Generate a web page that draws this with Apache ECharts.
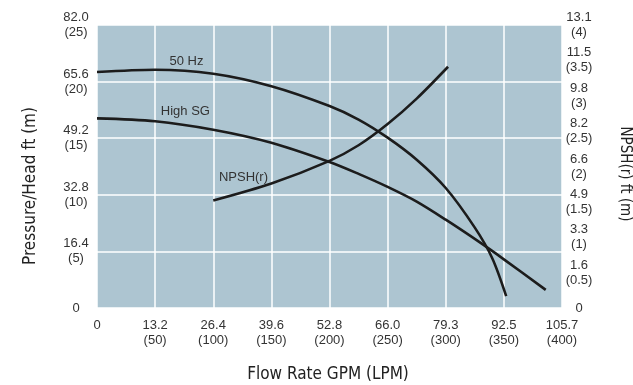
<!DOCTYPE html>
<html>
<head>
<meta charset="utf-8">
<script src="https://cdn.jsdelivr.net/npm/echarts@6/dist/echarts.min.js"></script>
<style>
  html, body { margin: 0; padding: 0; background: #fff; }
  #chart { width: 633px; height: 385px; }
</style>
</head>
<body>
<div id="chart"></div>
<script>
// flow in LPM, head in m (left axis), NPSH in m (right axis)
const flow50Hz = [0, 50, 100, 150, 200, 225, 250, 275, 300, 325, 340, 352]
const head50Hz = [20.85, 21.05, 20.7, 19.6, 17.85, 16.65, 15.05, 13.1, 10.6, 7.1, 4.4, 1.05]

const flowHighSG = [0, 50, 100, 150, 200, 225, 250, 275, 300, 330, 350, 386]
const headHighSG = [16.75, 16.5, 15.75, 14.6, 12.9, 11.85, 10.7, 9.4, 7.8, 5.75, 4.3, 1.6]

const flowNpsh = [100, 150, 200, 225, 250, 275, 302]
const npshValues = [1.52, 1.76, 2.08, 2.3, 2.6, 2.96, 3.41]

const xTickLabels = ['0', '13.2\n(50)', '26.4\n(100)', '39.6\n(150)', '52.8\n(200)', '66.0\n(250)', '79.3\n(300)', '92.5\n(350)', '105.7\n(400)']
const leftTickLabels = ['0', '16.4\n(5)', '32.8\n(10)', '49.2\n(15)', '65.6\n(20)', '82.0\n(25)']
const rightTickLabels = ['0', '1.6\n(0.5)', '3.3\n(1)', '4.9\n(1.5)', '6.6\n(2)', '8.2\n(2.5)', '9.8\n(3)', '11.5\n(3.5)', '13.1\n(4)']

const pair = (xs, ys) => xs.map((x, i) => [x, ys[i]])

const tickFont = {
  color: '#333',
  fontFamily: 'Liberation Sans, Arial, sans-serif',
  fontSize: 13,
  lineHeight: 15
}
const nameFamily = '"Liberation Sans Narrow", "DejaVu Sans Condensed", sans-serif'
const lineStyle = { width: 2.6, color: '#1c1c1c' }

function curveLabel(text, coord) {
  return {
    symbol: 'circle',
    symbolSize: 1,
    itemStyle: { color: 'transparent' },
    label: {
      show: true,
      position: 'inside',
      formatter: text,
      color: '#333',
      fontFamily: 'Liberation Sans, Arial, sans-serif',
      fontSize: 13
    },
    data: [{ coord: coord }]
  }
}

const chart = echarts.init(document.getElementById('chart'))
chart.setOption({
  animation: false,
  grid: {
    left: 97,
    right: 71,
    top: 25,
    bottom: 77,
    show: true,
    backgroundColor: '#adc5d1',
    borderWidth: 0
  },
  xAxis: {
    type: 'value',
    min: 0,
    max: 400,
    interval: 50,
    axisLine: { show: false },
    axisTick: { show: false },
    splitLine: { show: true, lineStyle: { color: '#fff', width: 1.5 } },
    axisLabel: Object.assign({
      margin: 10,
      formatter: (v, i) => xTickLabels[i]
    }, tickFont)
  },
  yAxis: [{
    type: 'value',
    min: 0,
    max: 25,
    interval: 5,
    axisLine: { show: false },
    axisTick: { show: false },
    splitLine: { show: true, lineStyle: { color: '#fff', width: 1.5 } },
    axisLabel: Object.assign({
      margin: 21,
      align: 'center',
      formatter: (v, i) => leftTickLabels[i]
    }, tickFont)
  }, {
    type: 'value',
    min: 0,
    max: 4,
    interval: 0.5,
    position: 'right',
    axisLine: { show: false },
    axisTick: { show: false },
    splitLine: { show: false },
    axisLabel: Object.assign({
      margin: 17,
      align: 'center',
      formatter: (v, i) => rightTickLabels[i]
    }, tickFont)
  }],
  series: [{
    name: '50 Hz',
    type: 'line',
    smooth: 0.3,
    showSymbol: false,
    lineStyle: lineStyle,
    data: pair(flow50Hz, head50Hz),
    markPoint: curveLabel('50 Hz', [77, 21.8])
  }, {
    name: 'High SG',
    type: 'line',
    smooth: 0.3,
    showSymbol: false,
    lineStyle: lineStyle,
    data: pair(flowHighSG, headHighSG),
    markPoint: curveLabel('High SG', [76, 17.4])
  }, {
    name: 'NPSH(r)',
    type: 'line',
    yAxisIndex: 1,
    smooth: 0.3,
    showSymbol: false,
    lineStyle: lineStyle,
    data: pair(flowNpsh, npshValues),
    markPoint: curveLabel('NPSH(r)', [126, 1.84])
  }],
  graphic: [{
    type: 'text',
    x: 31,
    y: 186,
    rotation: Math.PI / 2,
    style: { text: 'Pressure/Head ft (m)', font: '17px ' + nameFamily, fill: '#222', align: 'center', verticalAlign: 'middle' }
  }, {
    type: 'text',
    x: 625,
    y: 174,
    rotation: -Math.PI / 2,
    style: { text: 'NPSH(r) ft (m)', font: '15px ' + nameFamily, fill: '#222', align: 'center', verticalAlign: 'middle' }
  }, {
    type: 'text',
    x: 328,
    y: 375,
    style: { text: 'Flow Rate GPM (LPM)', font: '17px ' + nameFamily, fill: '#222', align: 'center', verticalAlign: 'middle' }
  }]
})
</script>
</body>
</html>
